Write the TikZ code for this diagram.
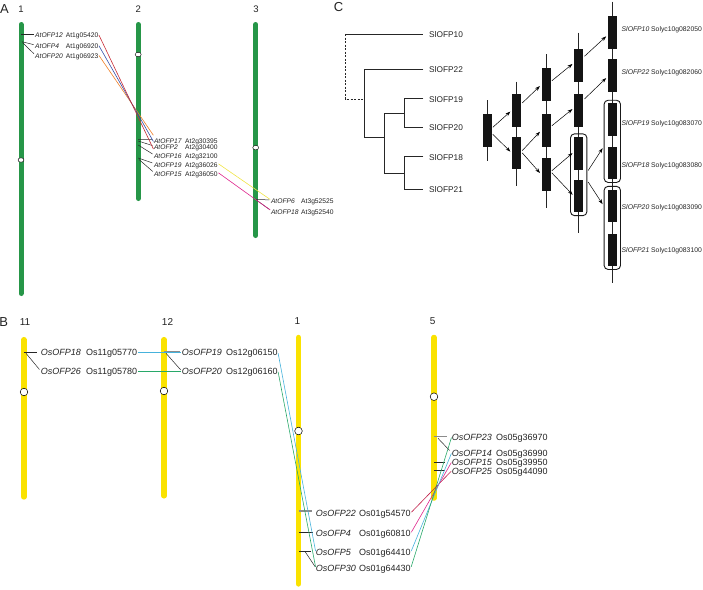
\documentclass[tikz,border=0pt]{standalone}
\usepackage{fontspec}
\setmainfont{Liberation Sans}
\usetikzlibrary{arrows.meta,shapes.geometric,fit,calc}
\definecolor{chrgreen}{RGB}{38,150,72}
\definecolor{chryellow}{RGB}{250,226,0}
\definecolor{lred}{RGB}{200,45,55}
\definecolor{lblue}{RGB}{55,80,170}
\definecolor{lorange}{RGB}{240,128,40}
\definecolor{lyellow}{RGB}{240,228,70}
\definecolor{lmagenta}{RGB}{222,36,140}
\definecolor{lcyan}{RGB}{70,178,220}
\definecolor{lgreen}{RGB}{40,168,105}
\definecolor{lcrimson}{RGB}{192,30,72}
\definecolor{txt}{RGB}{35,35,35}
\begin{document}
\begin{tikzpicture}[x=1pt,y=-1pt,
  lab/.style={inner xsep=0pt,inner ysep=0pt,anchor=west,text height=0.72em,text depth=0pt,text=txt},
  atn/.style={lab,font=\fontsize{6.7}{8}\selectfont\itshape},
  atg/.style={lab,font=\fontsize{6.7}{8}\selectfont},
  osn/.style={lab,font=\fontsize{9}{10}\selectfont\itshape},
  osg/.style={lab,font=\fontsize{9}{10}\selectfont},
  sln/.style={lab,font=\fontsize{8.3}{9}\selectfont},
  slg/.style={lab,font=\fontsize{6.8}{8}\selectfont},
  ptitle/.style={inner sep=0pt,font=\fontsize{13}{15}\selectfont,text=txt},
  numA/.style={inner sep=0pt,font=\fontsize{9.5}{11}\selectfont,text=txt},
  numB/.style={inner sep=0pt,font=\fontsize{10}{12}\selectfont,text=txt},
  chrA/.style={line width=5pt,line cap=round,draw=chrgreen},
  chrB/.style={line width=5.5pt,line cap=round,draw=chryellow},
  cenA/.style={ellipse,draw=black,fill=white,line width=0.4pt,minimum width=6pt,minimum height=4.5pt,inner sep=0pt},
  cenB/.style={circle,draw=black,fill=white,line width=0.5pt,minimum size=7.6pt,inner sep=0pt},
  tk/.style={draw=black!85,line width=0.5pt,shorten >=1.5pt},
  tkg/.style={draw=black!45,line width=1.1pt,shorten >=1.5pt},
  lnk/.style={line width=0.6pt,shorten <=0.8pt,shorten >=0.8pt},
  tree/.style={line width=1pt,draw=black!85},
  dtree/.style={line width=1pt,draw=black!85,dash pattern=on 2pt off 1.5pt},
  gline/.style={line width=1pt,draw=black!85},
  gbox/.style={fill=black!92,minimum width=9pt,minimum height=32.5pt,inner sep=0pt},
  grp/.style={draw=black!90,line width=0.9pt,rounded corners=4pt,inner xsep=3.5pt,inner ysep=3pt},
  dup/.style={-{Stealth[length=5pt,width=3.5pt]},line width=0.5pt,shorten <=1.5pt,shorten >=2pt}
]
\useasboundingbox (0,0) rectangle (703,589);

% ================= Panel A =================
\node[ptitle] (tA) at (4.5,9) {A};
\node[numA] (nA1) at (21,8.8) {1};
\node[numA] (nA2) at (138.3,8.8) {2};
\node[numA] (nA3) at (256,8.8) {3};
\draw[chrA] (21,24.5) -- (21,293.5);
\draw[chrA] (138.2,24.5) -- (138.2,198.5);
\draw[chrA] (255.7,24.5) -- (255.7,235.5);
\node[cenA] (cA1) at (21,160) {};
\node[cenA] (cA2) at (138.2,54.5) {};
\node[cenA] (cA3) at (255.7,147.6) {};

% chr1 labels
\node[atn] (a12) at (35,34.2) {AtOFP12};
\node[atg] (a12g) at (65.7,34.2) {At1g05420};
\node[atn] (a4) at (35,45) {AtOFP4};
\node[atg] (a4g) at (65.7,45) {At1g06920};
\node[atn] (a20) at (35,54.8) {AtOFP20};
\node[atg] (a20g) at (65.7,54.8) {At1g06923};
\coordinate (pa12) at (21,34.2);
\coordinate (pa4) at (22,41.7);
\coordinate (pa20) at (22.5,42.6);
\draw[tk] (pa12) -- (a12.west);
\draw[tk] (pa4) -- (a4.west);
\draw[tk] (pa20) -- (a20.west);

% chr2 labels
\node[atn] (a17) at (153.8,139.7) {AtOFP17};
\node[atg] (a17g) at (185,139.7) {At2g30395};
\node[atn] (a2) at (153.8,146) {AtOFP2};
\node[atg] (a2g) at (185,146) {At2g30400};
\node[atn] (a16) at (153.8,154.8) {AtOFP16};
\node[atg] (a16g) at (185,154.8) {At2g32100};
\node[atn] (a19) at (153.8,163.4) {AtOFP19};
\node[atg] (a19g) at (185,163.4) {At2g36026};
\node[atn] (a15) at (153.8,172.4) {AtOFP15};
\node[atg] (a15g) at (185,172.4) {At2g36050};
\coordinate (pa17) at (138.2,139.5);
\coordinate (pa2) at (138.2,141);
\coordinate (pa16) at (138.2,145);
\coordinate (pa19) at (138.2,158);
\coordinate (pa15) at (139,159.5);
\draw[tk] (pa17) -- (a17.west);
\draw[tk] (pa2) -- (a2.west);
\draw[tk] (pa16) -- (a16.west);
\draw[tk] (pa19) -- (a19.west);
\draw[tk] (pa15) -- (a15.west);

% chr3 labels
\node[atn] (a6) at (270.8,199.9) {AtOFP6};
\node[atg] (a6g) at (301,199.9) {At3g52525};
\node[atn] (a18) at (270.8,210.4) {AtOFP18};
\node[atg] (a18g) at (301,210.4) {At3g52540};
\coordinate (pa6) at (255.7,199.5);
\coordinate (pa18) at (257,200.5);
\draw[tk] (pa6) -- (a6.west);
\draw[tk] (pa18) -- (a18.west);

% colored links A
\draw[lnk,draw=lorange] (a20g.east) -- (a17.north west);
\draw[lnk,draw=lblue] (a4g.east) -- (a2.north west);
\draw[lnk,draw=lred] (a12g.east) -- (a2.south west);
\draw[lnk,draw=lyellow] (a19g.east) -- (a6.west);
\draw[lnk,draw=lmagenta] (a15g.east) -- (a18.west);

% ================= Panel C =================
\node[ptitle] (tC) at (338.5,7) {C};
\draw[tree] (345.7,34) -- (423.3,34);
\draw[dtree] (345.7,34) -- (345.7,99) -- (364.3,99);
\draw[tree] (423.3,69) -| (364.3,137.7) -- (384.3,137.7);
\draw[tree] (384.3,113.3) -- (384.3,173.3);
\draw[tree] (384.3,113.3) -- (404.3,113.3);
\draw[tree] (423.3,98.3) -| (404.3,127.3) -- (423.3,127.3);
\draw[tree] (384.3,173.3) -- (404.3,173.3);
\draw[tree] (423.3,156.7) -| (404.3,189) -- (423.3,189);
\node[sln] (s10) at (429,34) {SlOFP10};
\node[sln] (s22) at (429,69) {SlOFP22};
\node[sln] (s19) at (429,98.6) {SlOFP19};
\node[sln] (s20) at (429,127.3) {SlOFP20};
\node[sln] (s18) at (429,156.8) {SlOFP18};
\node[sln] (s21) at (429,189.2) {SlOFP21};

% gene axes
\draw[gline] (487,100) -- (487,161);
\draw[gline] (516.5,81.7) -- (516.5,186);
\draw[gline] (546,54) -- (546,208.3);
\draw[gline] (578.7,32.7) -- (578.7,233.3);
\draw[gline] (612.3,1.7) -- (612.3,282.7);
% boxes
\node[gbox] (c1b1) at (487,130.3) {};
\node[gbox] (c2b1) at (516.5,110.3) {};
\node[gbox] (c2b2) at (516.5,153) {};
\node[gbox] (c3b1) at (546,84.7) {};
\node[gbox] (c3b2) at (546,130.3) {};
\node[gbox] (c3b3) at (546,174.5) {};
\node[gbox] (c4b1) at (578.7,65.7) {};
\node[gbox] (c4b2) at (578.7,110.3) {};
\node[gbox] (c4b3) at (578.7,153.3) {};
\node[gbox] (c4b4) at (578.7,196.2) {};
\node[gbox] (c5b1) at (612.3,32.7) {};
\node[gbox] (c5b2) at (612.3,75.5) {};
\node[gbox] (c5b3) at (612.3,119.7) {};
\node[gbox] (c5b4) at (612.3,163) {};
\node[gbox] (c5b5) at (612.3,205.8) {};
\node[gbox] (c5b6) at (612.3,250) {};
\node[grp,fit=(c4b3)(c4b4)] (g4) {};
\node[grp,fit=(c5b3)(c5b4)] (g5a) {};
\node[grp,fit=(c5b5)(c5b6)] (g5b) {};
% arrows
\draw[dup] ([yshift=2pt]c1b1.east) -- (c2b1.west);
\draw[dup] ([yshift=-3pt]c1b1.east) -- (c2b2.west);
\draw[dup] ([yshift=6.3pt]c2b1.east) -- (c3b1.west);
\draw[dup] ([yshift=1.3pt]c2b2.east) -- (c3b2.west);
\draw[dup] ([yshift=1.3pt]c2b2.east) -- (c3b3.west);
\draw[dup] ([yshift=3pt]c3b1.east) -- ([yshift=3pt]c4b1.west);
\draw[dup] ([yshift=3.6pt]c3b2.east) -- ([yshift=2.5pt]c4b2.west);
\draw[dup] ([yshift=2.8pt]c3b3.east) -- ([yshift=1.5pt]c4b3.west);
\draw[dup] ([yshift=2.8pt]c3b3.east) -- (c4b4.west);
\draw[dup] ([yshift=8.4pt]c4b1.east) -- ([yshift=-2.3pt]c5b1.west);
\draw[dup] ([yshift=10.3pt]c4b2.east) -- ([yshift=-1.2pt]c5b2.west);
\draw[dup] ([yshift=3pt]g4.east) -- (g5a.west |- c5b4.north);
\draw[dup] ([yshift=-6pt]g4.east) -- (g5b.west |- c5b5.west);
% labels
\node[slg] (l10) at (621.5,28.2) {\textit{SlOFP10} Solyc10g082050};
\node[slg] (l22) at (621.5,70.6) {\textit{SlOFP22} Solyc10g082060};
\node[slg] (l19) at (621.5,121.5) {\textit{SlOFP19} Solyc10g083070};
\node[slg] (l18) at (621.5,164) {\textit{SlOFP18} Solyc10g083080};
\node[slg] (l20) at (621.5,206.3) {\textit{SlOFP20} Solyc10g083090};
\node[slg] (l21) at (621.5,249.3) {\textit{SlOFP21} Solyc10g083100};

% ================= Panel B =================
\node[ptitle] (tB) at (3.8,322.5) {B};
\node[numB] (nB11) at (25,322.3) {11};
\node[numB] (nB12) at (167.5,322.3) {12};
\node[numB] (nB1) at (297.3,321.5) {1};
\node[numB] (nB5) at (432.7,321.5) {5};
\draw[chrB] (23.8,339.7) -- (23.8,496.9);
\draw[chrB] (164,339.7) -- (164,495.8);
\draw[chrB] (298.5,337.5) -- (298.5,583.9);
\draw[chrB] (434,337.5) -- (434,498);
\node[cenB] (cB11) at (24,392) {};
\node[cenB] (cB12) at (164,391) {};
\node[cenB] (cB1) at (298.5,431) {};
\node[cenB] (cB5) at (434,396.7) {};

% chr11
\node[osn] (b18) at (40.7,352.3) {OsOFP18};
\node[osg] (b18g) at (86,352.3) {Os11g05770};
\node[osn] (b26) at (40.7,371) {OsOFP26};
\node[osg] (b26g) at (86,371) {Os11g05780};
\coordinate (pb18) at (23.8,352.3);
\coordinate (pb26) at (26,353.3);
\draw[tk,shorten >=4pt] (pb18) -- (b18.west);
\draw[tk,shorten >=2pt] (pb26) -- (b26.west);
% chr12
\node[osn] (b19) at (181.7,352.3) {OsOFP19};
\node[osg] (b19g) at (226,352.3) {Os12g06150};
\node[osn] (b20) at (181.7,371) {OsOFP20};
\node[osg] (b20g) at (226,371) {Os12g06160};
\coordinate (pb19) at (164,351.5);
\coordinate (pb20) at (166,353.3);
\draw[tkg] (pb19) -- (b19.west |- pb19);
\draw[tk] (pb20) -- (b20.west);
% chr1
\node[osn] (b22) at (315.7,512.7) {OsOFP22};
\node[osg] (b22g) at (359,512.7) {Os01g54570};
\node[osn] (b4) at (315.7,532.9) {OsOFP4};
\node[osg] (b4g) at (359,532.9) {Os01g60810};
\node[osn] (b5) at (315.7,551.8) {OsOFP5};
\node[osg] (b5g) at (359,551.8) {Os01g64410};
\node[osn] (b30) at (315.7,567.6) {OsOFP30};
\node[osg] (b30g) at (359,567.6) {Os01g64430};
\coordinate (pb22) at (298.5,511);
\coordinate (pb4) at (298.5,532.7);
\coordinate (pb5) at (299,551);
\coordinate (pb30) at (305,551.5);
\draw[tkg,shorten >=4pt] (pb22) -- (b22.west |- pb22);
\draw[tk,shorten >=2.5pt] (pb4) -- (b4.west |- pb4);
\draw[tk,shorten >=5pt] (pb5) -- (b5.west |- pb5);
\draw[tk,shorten >=1pt] (pb30) -- (b30.west);
% chr5
\node[osn] (b23) at (451.7,436.8) {OsOFP23};
\node[osg] (b23g) at (496,436.8) {Os05g36970};
\node[osn] (b14) at (451.7,452.7) {OsOFP14};
\node[osg] (b14g) at (496,452.7) {Os05g36990};
\node[osn] (b15) at (451.7,461.9) {OsOFP15};
\node[osg] (b15g) at (496,461.9) {Os05g39950};
\node[osn] (b25) at (451.7,470.7) {OsOFP25};
\node[osg] (b25g) at (496,470.7) {Os05g44090};
\coordinate (pb23) at (434,436.7);
\coordinate (pb14) at (438,438.3);
\coordinate (pb15) at (434,462.5);
\coordinate (pb25) at (434,470);
\draw[tkg,shorten >=5pt] (pb23) -- (b23.west |- pb23);
\draw[tk,shorten >=3pt] (pb14) -- (b14.west);
\draw[tk,shorten >=6.5pt] (pb15) -- (b15.west |- pb15);
\draw[tk,shorten >=6.5pt] (pb25) -- (b25.west |- pb25);

% colored links B
\draw[lnk,draw=lcyan] (b18g.east) -- (b19.west);
\draw[lnk,draw=lgreen] (b26g.east) -- (b20.west);
\draw[lnk,draw=lcyan] (b19g.east) -- (b5.west);
\draw[lnk,draw=lgreen] (b20g.east) -- (b30.west);
\draw[lnk,draw=lcrimson] (b22g.east) -- (b25.west);
\draw[lnk,draw=lmagenta] (b4g.east) -- (b15.west);
\draw[lnk,draw=lcyan] (b5g.east) -- (b14.west);
\draw[lnk,draw=lgreen] (b30g.east) -- (b23.west);
\end{tikzpicture}
\end{document}
